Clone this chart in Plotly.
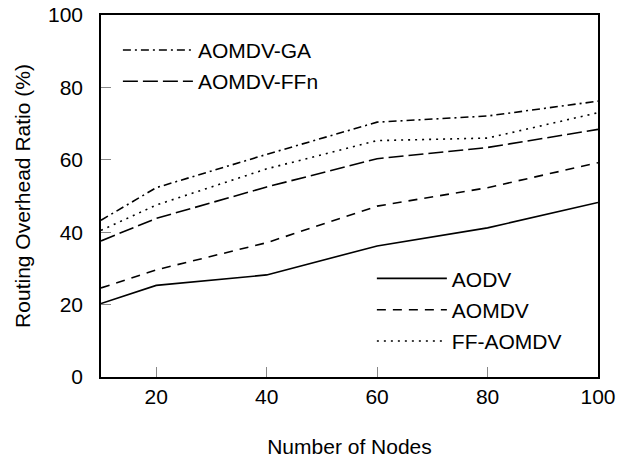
import plotly.graph_objects as go

nodes = [10, 20, 40, 60, 80, 100]
aodv = [20.3, 25.3, 28.2, 36.2, 41.2, 48.2]
aomdv = [24.6, 29.6, 37.1, 47.2, 52.3, 59.2]
ff_aomdv = [40.5, 47.5, 57.5, 65.3, 66.0, 73.0]
aomdv_ffn = [37.6, 43.8, 52.5, 60.3, 63.4, 68.4]
aomdv_ga = [43.3, 52.3, 61.5, 70.4, 72.1, 76.2]

x_ticks = [20, 40, 60, 80, 100]
y_ticks = [0, 20, 40, 60, 80, 100]

FONT = "Liberation Sans, Arial, sans-serif"

# name, values, dash pattern, legend box
series = [
    ("AODV", aodv, "solid", "legend2"),
    ("AOMDV", aomdv, "9px,7px", "legend2"),
    ("FF-AOMDV", ff_aomdv, "2px,5px", "legend2"),
    ("AOMDV-GA", aomdv_ga, "8px,4px,2px,4px", "legend"),
    ("AOMDV-FFn", aomdv_ffn, "15px,5px", "legend"),
]

fig = go.Figure()
for name, vals, dash, leg in series:
    fig.add_trace(go.Scatter(
        x=nodes, y=vals, name=name, mode="lines",
        line=dict(color="black", width=1.6, dash=dash),
        legend=leg, legendgroup=name,
    ))

axis_common = dict(
    showgrid=False, zeroline=False, automargin=False,
    showline=True, linecolor="black", linewidth=1.5, mirror=True,
    ticks="inside", ticklen=10, tickcolor="#888", tickwidth=1,
    tickfont=dict(family=FONT, size=21, color="black"),
)

legend_common = dict(
    xanchor="left", yanchor="top", bgcolor="rgba(0,0,0,0)",
    font=dict(family=FONT, size=21), itemwidth=70,
    tracegroupgap=1, traceorder="grouped",
)

fig.update_layout(
    width=631, height=458,
    margin=dict(l=101, r=33, t=15, b=81),
    plot_bgcolor="white", paper_bgcolor="white",
    font=dict(family=FONT, color="black"),
    xaxis=dict(range=[10, 100], tickvals=x_ticks,
               title=dict(text="Number of Nodes", font=dict(family=FONT, size=21), standoff=33),
               **axis_common),
    yaxis=dict(range=[0, 100], tickvals=y_ticks, ticklabelstandoff=12,
               title=dict(text="Routing Overhead Ratio (%)", font=dict(family=FONT, size=21), standoff=12),
               **axis_common),
    legend=dict(x=0.034, y=0.959, **legend_common),
    legend2=dict(x=0.545, y=0.328, **legend_common),
    showlegend=True,
)

fig.write_html("out.html")
